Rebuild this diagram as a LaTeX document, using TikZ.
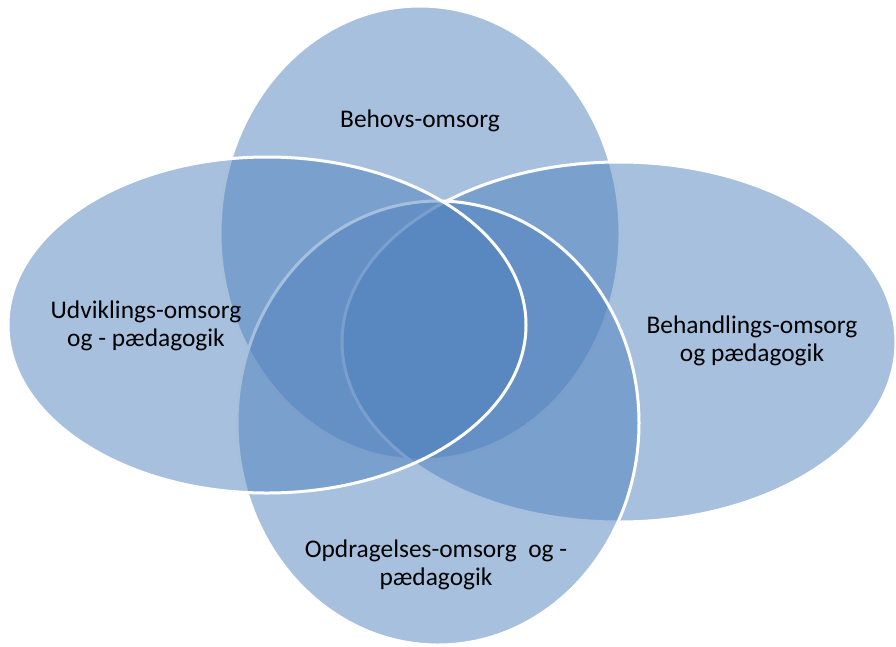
\documentclass[tikz,border=0pt]{standalone}
\usepackage{fontspec}
\setmainfont{Carlito}
\definecolor{accent}{RGB}{79,129,189}
\tikzset{
  petal/.style={fill=accent, fill opacity=0.5, draw=white, line width=3pt},
  lbl/.style={align=center, text=black, inner sep=0pt, font=\fontsize{25.4}{28}\selectfont}
}
\begin{document}
\begin{tikzpicture}[x=1pt,y=-1pt]
\useasboundingbox (0,0) rectangle (896,646);
% ellipses in drawing order
\draw[petal] (420,233) ellipse [x radius=200, y radius=227];
\draw[petal] (619,342) ellipse [x radius=277, y radius=180];
\draw[petal] (438,423) ellipse [x radius=201, y radius=222];
\draw[petal] (267,325) ellipse [x radius=259, y radius=168];
% labels
\node[lbl] (behov) at (420,121) {Behovs-omsorg};
\node[lbl] (udv) at (146,326) {Udviklings-omsorg\\og - pædagogik};
\node[lbl] (beh) at (752,341) {Behandlings-omsorg\\og pædagogik};
\node[lbl] (opd) at (436,565) {Opdragelses-omsorg\ \ og -\\pædagogik};
\end{tikzpicture}
\end{document}
